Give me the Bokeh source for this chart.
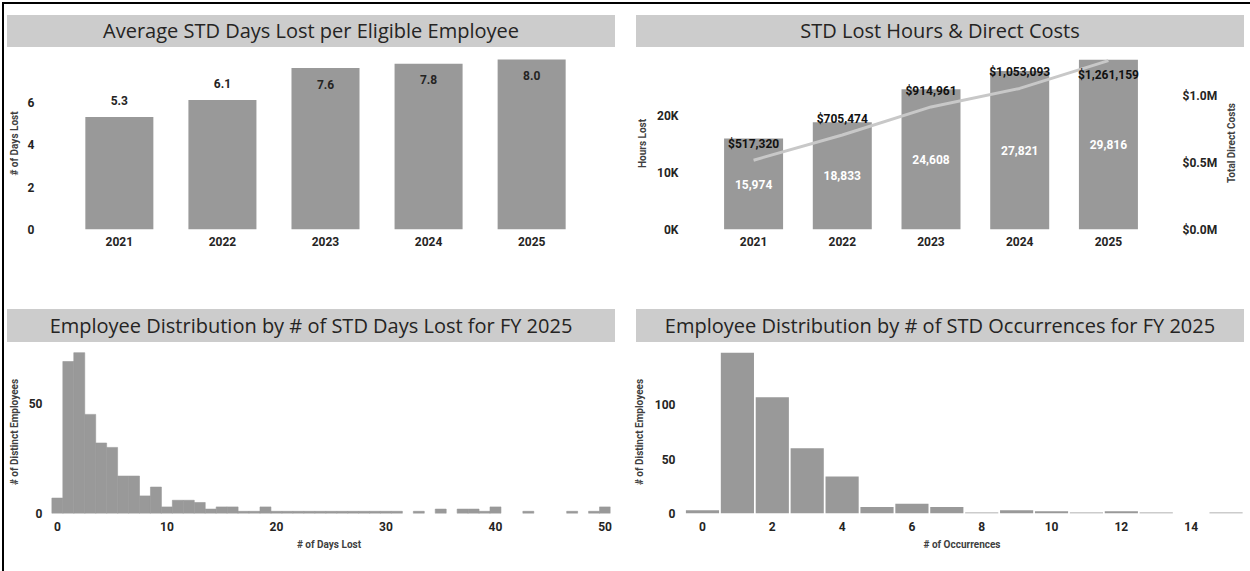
import math
from bokeh.plotting import figure
from bokeh.models import (ColumnDataSource, FactorRange, Range1d, LinearAxis, FixedTicker,
                          CustomJSTickFormatter, Div)
from bokeh.layouts import column, row
from bokeh.embed import file_html
from bokeh.resources import INLINE
from bokeh.core.properties import value

# ---------------- data ----------------
years = ["2021", "2022", "2023", "2024", "2025"]
avg_days_lost = [5.3, 6.1, 7.6, 7.8, 8.0]
hours_lost = [15974, 18833, 24608, 27821, 29816]
direct_costs = [517320, 705474, 914961, 1053093, 1261159]

days_lost_bins = [0, 1, 2, 3, 4, 5, 6, 7, 8, 9, 10, 11, 12, 13, 14, 15, 16, 17, 18, 19,
                  20, 21, 22, 23, 24, 25, 26, 27, 28, 29, 30, 31,
                  33, 35, 37, 38, 39, 40, 43, 47, 49, 50]
days_lost_counts = [7, 69, 73, 45, 32, 30, 17, 17, 8, 12, 3, 6, 6, 5, 2, 3, 3, 1, 1, 3,
                    1, 1, 1, 1, 1, 1, 1, 1, 1, 1, 1, 1,
                    1, 2, 2, 2, 1, 3, 1, 1, 1, 3]

occurrence_bins = [0, 1, 2, 3, 4, 5, 6, 7, 8, 9, 10, 11, 12, 13, 14, 15]
occurrence_counts = [3, 148, 107, 60, 34, 6, 9, 6, 1, 3, 2, 1, 2, 1, 0, 1]

titles = ["Average STD Days Lost per Eligible Employee",
          "STD Lost Hours &amp; Direct Costs",
          "Employee Distribution by # of STD Days Lost for FY 2025",
          "Employee Distribution by # of STD Occurrences for FY 2025"]

# ---------------- style ----------------
BAR = "#999999"
LINE = "#c8c8c8"
TEXT = "#252423"
AXIS_LABEL = "#404040"
FONT = "Roboto"
TITLE_FONT = "Open Sans"


def base_fig(width, height, x_range, y_range, left, right, top, bottom):
    p = figure(width=width, height=height, x_range=x_range, y_range=y_range,
               output_backend="svg", toolbar_location=None,
               min_border_left=left, min_border_right=right,
               min_border_top=top, min_border_bottom=bottom)
    p.outline_line_color = None
    p.xgrid.visible = False
    p.ygrid.visible = False
    p.background_fill_color = "white"
    p.border_fill_color = "white"
    return p


def style_axis(ax, standoff, label_standoff):
    ax.axis_line_color = None
    ax.major_tick_line_color = None
    ax.minor_tick_line_color = None
    ax.major_tick_out = 0
    ax.major_tick_in = 0
    ax.minor_tick_out = 0
    ax.minor_tick_in = 0
    ax.major_label_text_font = FONT
    ax.major_label_text_font_style = "bold"
    ax.major_label_text_font_size = "12px"
    ax.major_label_text_color = TEXT
    ax.major_label_standoff = standoff
    ax.axis_label_text_font = FONT
    ax.axis_label_text_font_style = "bold"
    ax.axis_label_text_font_size = "10px"
    ax.axis_label_text_color = AXIS_LABEL
    ax.axis_label_standoff = label_standoff


def title_div(text, top, left, h):
    html = ('<div style="width:608px;height:%dpx;line-height:%dpx;background:#cccccc;'
            'text-align:center;font-family:\'%s\';font-size:20px;color:%s;'
            'white-space:nowrap;">%s</div>' % (h, h, TITLE_FONT, TEXT, text))
    return Div(text=html, width=608, height=h, margin=(top, 0, 0, left))


def bar_div(width, height):
    return Div(text="", width=width, height=height, margin=(0, 0, 0, 0),
               styles={"background-color": "#000000"})


# ---------------- top-left: average days lost ----------------
TL_YEND = 8.1
tl = base_fig(621, 258,
              FactorRange(*years, range_padding=0.265, range_padding_units="absolute"),
              Range1d(0, TL_YEND), 36, 15, 10, 76)
tl_src = ColumnDataSource(dict(
    year=years, v=avg_days_lost,
    label=["%.1f" % v for v in avg_days_lost],
    off=[-16 if (TL_YEND - v) >= 1.08 else 16 for v in avg_days_lost]))
tl.vbar(x="year", top="v", width=0.66, source=tl_src, fill_color=BAR, line_color=None)
tl.text(x="year", y="v", text="label", y_offset="off", source=tl_src,
        text_align="center", text_baseline="middle", text_font=value(FONT),
        text_font_style="bold", text_font_size="12px", text_color=TEXT)
tl.yaxis.ticker = FixedTicker(ticks=[0, 2, 4, 6])
tl.yaxis.axis_label = "# of Days Lost"
style_axis(tl.yaxis[0], 6, 5)
style_axis(tl.xaxis[0], 7, 4)

# ---------------- top-right: hours & costs ----------------
TR_HEND = 30200
TR_CEND = 1.284e6
TR_FRAME_H = 172
tr = base_fig(601, 258,
              FactorRange(*years, range_padding=0.29, range_padding_units="absolute"),
              Range1d(0, TR_HEND), 58, 48, 10, 76)
tr.extra_y_ranges = {"cost": Range1d(0, TR_CEND)}
tr_src = ColumnDataSource(dict(
    year=years, hours=hours_lost, mid=[h / 2 for h in hours_lost],
    hlabel=["{:,}".format(h) for h in hours_lost],
    cost=direct_costs,
    clabel=["${:,.0f}".format(c) for c in direct_costs],
    coff=[-16 if (TR_CEND - c) / TR_CEND * TR_FRAME_H >= 22 else 14 for c in direct_costs]))
tr.vbar(x="year", top="hours", width=0.665, source=tr_src, fill_color=BAR, line_color=None)
tr.text(x="year", y="mid", text="hlabel", source=tr_src,
        text_align="center", text_baseline="middle", text_font=value(FONT),
        text_font_style="bold", text_font_size="12px", text_color="white")
tr.line(x="year", y="cost", source=tr_src, y_range_name="cost",
        line_color=LINE, line_width=3)
tr.text(x="year", y="cost", text="clabel", y_offset="coff", source=tr_src,
        y_range_name="cost",
        text_align="center", text_baseline="middle", text_font=value(FONT),
        text_font_style="bold", text_font_size="12px", text_color="#111111")
tr.yaxis.ticker = FixedTicker(ticks=[0, 10000, 20000])
tr.yaxis.formatter = CustomJSTickFormatter(code="return (tick/1000).toFixed(0) + 'K';")
tr.yaxis.axis_label = "Hours Lost"
style_axis(tr.yaxis[0], 5, 6)
style_axis(tr.xaxis[0], 7, 4)
right_ax = LinearAxis(y_range_name="cost",
                      ticker=FixedTicker(ticks=[0, 500000, 1000000]),
                      formatter=CustomJSTickFormatter(
                          code="return '$' + (tick/1e6).toFixed(1) + 'M';"))
style_axis(right_ax, 4, 5)
tr.add_layout(right_ax, "right")

# right axis title (reads bottom-to-top as in the reference)
cost_title = Div(
    text=('<div style="width:12px;height:172px;writing-mode:vertical-rl;'
          'transform:rotate(180deg);text-align:center;line-height:12px;'
          'font-family:Roboto;font-weight:bold;font-size:10px;color:%s;'
          'white-space:nowrap;">Total Direct Costs</div>' % AXIS_LABEL),
    width=12, height=172, margin=(10, 0, 0, 0))

# ---------------- bottom-left: days lost histogram ----------------
bl = base_fig(621, 221, Range1d(-0.9, 50.5), Range1d(0, 74), 43, 15, 8, 50)
bl.vbar(x=days_lost_bins, top=days_lost_counts, width=1.0,
        fill_color=BAR, line_color=BAR, line_width=0.6)
bl.xaxis.ticker = FixedTicker(ticks=[0, 10, 20, 30, 40, 50])
bl.yaxis.ticker = FixedTicker(ticks=[0, 50])
bl.xaxis.axis_label = "# of Days Lost"
bl.yaxis.axis_label = "# of Distinct Employees"
style_axis(bl.xaxis[0], 8, 5)
style_axis(bl.yaxis[0], 5, 6)

# ---------------- bottom-right: occurrences histogram ----------------
br = base_fig(623, 221, Range1d(-0.63, 15.5), Range1d(0, 150), 55, 5, 8, 50)
br.vbar(x=occurrence_bins, top=occurrence_counts, width=0.95,
        fill_color=BAR, line_color=None)
br.xaxis.ticker = FixedTicker(ticks=[0, 2, 4, 6, 8, 10, 12, 14])
br.yaxis.ticker = FixedTicker(ticks=[0, 50, 100])
br.xaxis.axis_label = "# of Occurrences"
br.yaxis.axis_label = "# of Distinct Employees"
style_axis(br.xaxis[0], 8, 5)
style_axis(br.yaxis[0], 5, 7)

# ---------------- layout ----------------
row1 = row(column(title_div(titles[0], 11, 3, 32), tl),
           column(title_div(titles[1], 11, 11, 32), row(tr, cost_title)))
row2 = row(column(title_div(titles[2], 4, 3, 33), bl),
           column(title_div(titles[3], 4, 11, 33), br))
content = column(row1, row2)
root = column(bar_div(1248, 2), row(bar_div(2, 567), content), margin=(2, 0, 0, 2))

open("out.html", "w").write(file_html(root, INLINE))
